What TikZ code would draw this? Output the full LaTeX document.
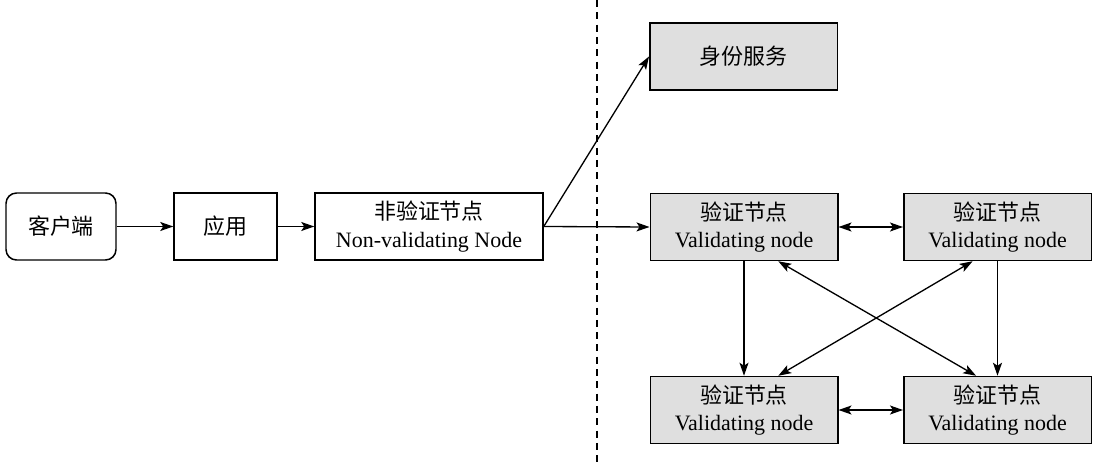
\documentclass[tikz,border=0pt]{standalone}
\usepackage{fontspec}
\setmainfont{Liberation Serif}
\newfontfamily\cjk{Noto Sans CJK SC}
\usetikzlibrary{arrows.meta,positioning,calc}
\tikzset{
  plainbox/.style={draw=black, line width=0.85pt, fill=white,
    minimum height=13.4mm, align=center, inner sep=2pt,
    font=\fontsize{12.5}{15.5}\selectfont},
  grayboxa/.style={plainbox, fill=gray!25, minimum width=37.5mm},
  edge/.style={-{Stealth[length=2.6mm, width=1.8mm, inset=0.6mm]}, line width=0.75pt},
  twoway/.style={{Stealth[length=2.6mm, width=1.8mm, inset=0.6mm]}-{Stealth[length=2.6mm, width=1.8mm, inset=0.6mm]}, line width=0.75pt},
  divider/.style={dashed, dash pattern=on 4pt off 3pt, line width=0.7pt},
}
\newcommand{\vnodetext}{{\cjk 验证节点}\\Validating node}

\begin{document}
\begin{tikzpicture}

  \useasboundingbox (0,0) rectangle (21.94,-9.24);

  %% ---- left side: client, app, non-validating node ----
  \node[plainbox, rounded corners=6pt, minimum width=22mm] (client) at (1.22,-4.53) {\cjk 客户端};
  \node[plainbox, minimum width=20.6mm] (app) at (4.51,-4.53) {\cjk 应用};
  \node[plainbox, minimum width=45.6mm] (nvnode) at (8.58,-4.53) {{\cjk 非验证节点}\\Non-validating Node};

  \draw[edge] (client) -- (app);
  \draw[edge] (app) -- (nvnode);

  %% ---- Vertical divider ----
  \coordinate (divtop) at (11.94,0);
  \coordinate (divbot) at (11.94,-9.24);
  \draw[divider] (divtop) -- (divbot);

  %% ---- right side: identity service and validating nodes ----
  \node[grayboxa] (ident) at (14.87,-1.13) {\cjk 身份服务};

  \node[grayboxa] (v1) at (14.88,-4.54) {\vnodetext};
  \node[grayboxa] (v2) at (19.95,-4.54) {\vnodetext};
  \node[grayboxa] (v3) at (14.88,-8.20) {\vnodetext};
  \node[grayboxa] (v4) at (19.95,-8.20) {\vnodetext};

  \draw[edge] (nvnode.east) -- (ident.west);
  \draw[edge] (nvnode.east) -- (v1.west);

  \draw[twoway] (v1) -- (v2);
  \draw[twoway] (v3) -- (v4);
  \draw[edge] (v1) -- (v3);
  \draw[edge] (v2) -- (v4);
  \draw[twoway] (v1.-45) -- (v4.122);
  \draw[twoway] (v2.234) -- (v3.45);

\end{tikzpicture}
\end{document}
